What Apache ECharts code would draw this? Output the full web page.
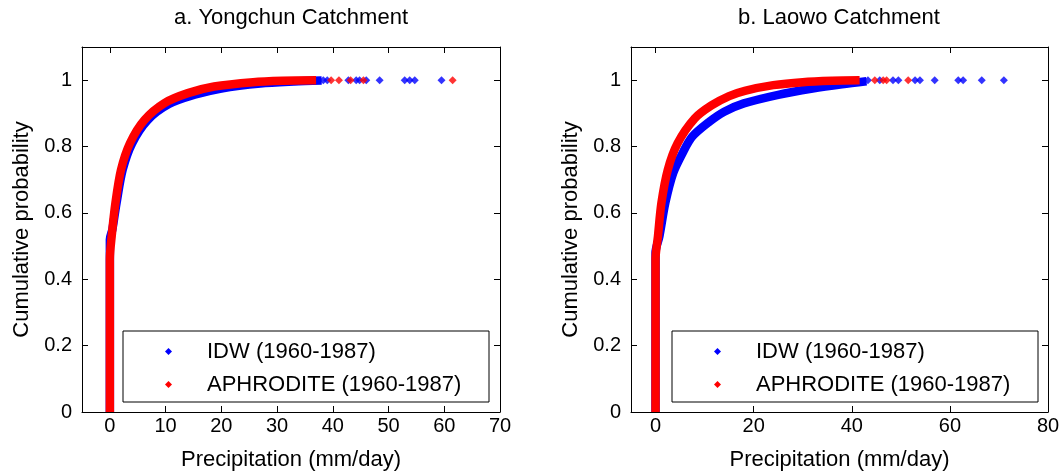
<!DOCTYPE html>
<html><head><meta charset="utf-8">
<script src="https://cdn.jsdelivr.net/npm/echarts@6/dist/echarts.min.js"></script>
<style>html,body{margin:0;padding:0;background:#fff}#c{width:1060px;height:473px}</style>
</head><body><div id="c"></div>
<script>
const panelTitles = ['a. Yongchun Catchment', 'b. Laowo Catchment'];
const seriesNames = ['IDW (1960-1987)', 'APHRODITE (1960-1987)'];
const xLabel = 'Precipitation (mm/day)';
const yLabel = 'Cumulative probability';
const xTicksA = [0, 10, 20, 30, 40, 50, 60, 70];
const xTicksB = [0, 20, 40, 60, 80];
const yTicks = [0, 0.2, 0.4, 0.6, 0.8, 1];

const idwA = [[0,0],[0,0.52],[0.45,0.55],[1.2,0.63],[2.3,0.73],[4.0,0.81],[6.8,0.88],[10.6,0.928],[15.2,0.956],[20,0.975],[27,0.99],[33,0.996],[38,0.999]];
const aphA = [[0,0],[0,0.46],[0.33,0.53],[1.0,0.63],[2.0,0.73],[3.6,0.81],[6.2,0.88],[9.8,0.931],[14,0.961],[18.7,0.981],[25.7,0.994],[31,0.998],[37,0.9995]];
const idwB = [[0,0],[0,0.48],[0.8,0.53],[2.0,0.63],[3.6,0.72],[5.5,0.78],[7.5,0.83],[11,0.875],[14,0.905],[18,0.93],[25,0.956],[32,0.975],[38,0.988],[43,0.997]];
const aphB = [[0,0],[0,0.46],[0.5,0.53],[1.2,0.63],[2.5,0.73],[4.5,0.81],[8,0.885],[11.4,0.924],[15,0.952],[18.2,0.968],[24,0.985],[30,0.994],[36,0.998],[41.6,0.9995]];
// isolated extreme values near probability 1 (mm/day)
const idwTailA = [38.3, 39.0, 42.8, 44.2, 44.8, 46.0, 48.4, 52.9, 53.8, 54.7, 59.5];
const aphTailA = [39.7, 41.1, 43.2, 45.5, 61.5];
const idwTailB = [43.3, 45.7, 48.4, 49.5, 52.9, 53.9, 56.9, 61.7, 62.7, 66.5, 71.0];
const aphTailB = [44.7, 46.4, 47.1, 51.5];

const BLUE = '#0000ff', RED = '#ff0000';
const FONT = 'Liberation Sans';
const chart = echarts.init(document.getElementById('c'));

const grids = [
  {left: 82, top: 47, width: 418, height: 365, outerBoundsMode: 'none', containLabel: false},
  {left: 631, top: 47, width: 417, height: 365, outerBoundsMode: 'none', containLabel: false}
];
const xr = [[-5, 70], [-5, 80]];
const xt = [xTicksA, xTicksB];

const xAxes = [], yAxes = [];
[0, 1].forEach(i => {
  const line = {show: true, onZero: false, lineStyle: {color: '#000', width: 1}};
  xAxes.push({type: 'value', gridIndex: i, position: 'bottom', min: xr[i][0], max: xr[i][1],
    axisLine: line, splitLine: {show: false},
    axisTick: {inside: true, length: 6, customValues: xt[i], lineStyle: {color: '#000'}},
    axisLabel: {customValues: xt[i], color: '#000', fontSize: 20, fontFamily: FONT, margin: 4},
    name: xLabel, nameLocation: 'middle', nameGap: 37,
    nameTextStyle: {color: '#000', fontSize: 22, fontFamily: FONT}});
  xAxes.push({type: 'value', gridIndex: i, position: 'top', min: xr[i][0], max: xr[i][1],
    axisLine: line, splitLine: {show: false},
    axisTick: {inside: true, length: 6, customValues: xt[i], lineStyle: {color: '#000'}},
    axisLabel: {show: false}});
  yAxes.push({type: 'value', gridIndex: i, position: 'left', min: 0, max: 1.1,
    axisLine: line, splitLine: {show: false},
    axisTick: {inside: true, length: 6, customValues: yTicks, lineStyle: {color: '#000'}},
    axisLabel: {customValues: yTicks, color: '#000', fontSize: 20, fontFamily: FONT, margin: 10},
    name: yLabel, nameLocation: 'middle', nameGap: 49,
    nameTextStyle: {color: '#000', fontSize: 22, fontFamily: FONT}});
  yAxes.push({type: 'value', gridIndex: i, position: 'right', min: 0, max: 1.1,
    axisLine: line, splitLine: {show: false},
    axisTick: {inside: true, length: 6, customValues: yTicks, lineStyle: {color: '#000'}},
    axisLabel: {show: false}});
});

function lineSeries(name, data, color, panel, z) {
  return {type: 'line', name, data, xAxisIndex: panel * 2, yAxisIndex: panel * 2,
    showSymbol: false, symbol: 'diamond', smooth: 0.3, z,
    itemStyle: {color}, lineStyle: {color, width: 8.5}};
}
function tailSeries(name, xs, color, panel, z) {
  return {type: 'scatter', name, data: xs.map(x => [x, 1]), xAxisIndex: panel * 2, yAxisIndex: panel * 2,
    symbol: 'diamond', symbolSize: 8, z, itemStyle: {color}};
}

const legendBase = {orient: 'vertical', top: 331, itemWidth: 7, itemHeight: 7, itemGap: 10,
  padding: [9, 12, 6, 42], borderColor: '#000', borderWidth: 1, backgroundColor: '#fff',
  selectedMode: false,
  data: [{name: seriesNames[0], icon: 'diamond'}, {name: seriesNames[1], icon: 'diamond'}],
  textStyle: {color: '#000', fontSize: 22, fontFamily: FONT, lineHeight: 23, padding: [0, 0, 0, 30], width: 270}};

chart.setOption({
  animation: false,
  backgroundColor: '#fff',
  title: [
    {text: panelTitles[0], left: 291, top: 7, textAlign: 'center', padding: 0,
      textStyle: {color: '#000', fontSize: 22, fontWeight: 'normal', fontFamily: FONT}},
    {text: panelTitles[1], left: 839, top: 7, textAlign: 'center', padding: 0,
      textStyle: {color: '#000', fontSize: 22, fontWeight: 'normal', fontFamily: FONT}}
  ],
  legend: [Object.assign({}, legendBase, {left: 123}), Object.assign({}, legendBase, {left: 672})],
  grid: grids,
  xAxis: xAxes,
  yAxis: yAxes,
  series: [
    lineSeries(seriesNames[0], idwA, BLUE, 0, 2),
    tailSeries(seriesNames[0], idwTailA, BLUE, 0, 2),
    lineSeries(seriesNames[1], aphA, RED, 0, 3),
    tailSeries(seriesNames[1], aphTailA, RED, 0, 3),
    lineSeries(seriesNames[0], idwB, BLUE, 1, 2),
    tailSeries(seriesNames[0], idwTailB, BLUE, 1, 2),
    lineSeries(seriesNames[1], aphB, RED, 1, 3),
    tailSeries(seriesNames[1], aphTailB, RED, 1, 3)
  ]
});
</script></body></html>
